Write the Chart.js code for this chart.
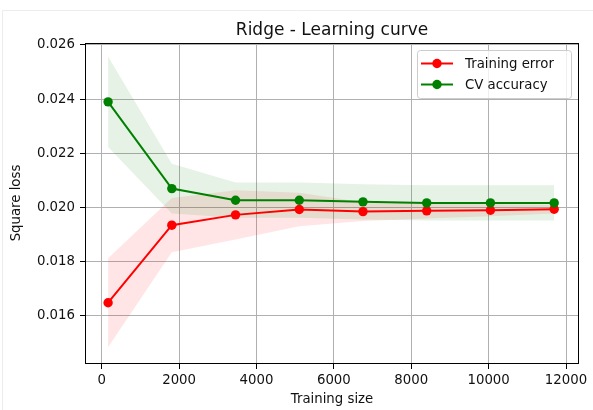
<!DOCTYPE html>
<html>
<head>
<meta charset="utf-8">
<title>Ridge - Learning curve</title>
<script src="https://cdn.jsdelivr.net/npm/chart.js@4/dist/chart.umd.min.js"></script>
<style>
  html, body { margin: 0; padding: 0; background: #fff; }
  canvas { display: block; }
</style>
</head>
<body>
<canvas id="chart" width="593" height="410"></canvas>
<script>
// Learning curve of a Ridge model: mean square loss and spread (±1 std)
const trainSizes   = [165, 1812, 3459, 5106, 6753, 8400, 10047, 11694];
const trainError   = [0.01649, 0.01935, 0.01973, 0.01993, 0.01985, 0.01988, 0.01990, 0.01994];
const trainStd     = [0.00164, 0.00100, 0.00091, 0.00062, 0.00035, 0.00028, 0.00022, 0.00016];
const cvAccuracy   = [0.02390, 0.02070, 0.02027, 0.02027, 0.02021, 0.02017, 0.02017, 0.02017];
const cvStd        = [0.00167, 0.00092, 0.00065, 0.00065, 0.00065, 0.00065, 0.00065, 0.00065];

const xTickValues = [0, 2000, 4000, 6000, 8000, 10000, 12000];
const yTickValues = [0.016, 0.018, 0.020, 0.022, 0.024, 0.026];
const legendOrder = ['Training error', 'CV accuracy'];

const FONT = "'DejaVu Sans', sans-serif";
const TEXT = '#111';
const RED = '#ff0000';
const GREEN = '#008000';

const pts = (ys) => trainSizes.map((x, i) => ({ x: x, y: ys[i] }));
const plus = (m, s) => m.map((v, i) => v + s[i]);
const minus = (m, s) => m.map((v, i) => v - s[i]);

const bandStyle = { borderWidth: 0, pointRadius: 0, pointHoverRadius: 0, tension: 0 };
const lineStyle = (c) => ({
  borderColor: c, backgroundColor: c, pointBackgroundColor: c,
  pointBorderWidth: 0, pointRadius: 4.7, borderWidth: 2, tension: 0, fill: false
});

// Axes frame, title and legend drawn on the canvas
const decorations = {
  id: 'decorations',
  beforeDraw(chart) {
    const ctx = chart.ctx;
    ctx.save();
    ctx.strokeStyle = '#ececec';
    ctx.lineWidth = 1;
    ctx.beginPath();
    ctx.moveTo(2.5, 410); ctx.lineTo(2.5, 10.5); ctx.lineTo(593, 10.5);
    ctx.stroke();
    ctx.restore();
  },
  afterDraw(chart) {
    const { ctx, chartArea: a } = chart;
    ctx.save();
    // frame
    const l = Math.round(a.left), r = Math.round(a.right);
    const t = Math.round(a.top), b = Math.round(a.bottom);
    ctx.strokeStyle = '#000';
    ctx.lineWidth = 1;
    ctx.strokeRect(l - 0.5, t + 0.5, r - l + 1, b - t);
    // title
    ctx.fillStyle = TEXT;
    ctx.font = '17px ' + FONT;
    ctx.textAlign = 'center';
    ctx.textBaseline = 'alphabetic';
    ctx.fillText('Ridge - Learning curve', (a.left + a.right) / 2, a.top - 8);

    // legend (upper right)
    const entries = legendOrder.map(name => chart.data.datasets.find(d => d.label === name));
    const w = 154, rowH = 21, h = 48;
    const x0 = a.right - 7 - w, y0 = a.top + 7;
    ctx.fillStyle = 'rgba(255,255,255,0.8)';
    ctx.strokeStyle = '#cccccc';
    ctx.beginPath();
    ctx.roundRect(x0 + 0.5, y0 + 0.5, w, h, 3);
    ctx.fill();
    ctx.stroke();
    entries.forEach((d, i) => {
      const cy = y0 + 13.5 + i * rowH;
      ctx.strokeStyle = d.borderColor;
      ctx.lineWidth = 2;
      ctx.beginPath();
      ctx.moveTo(x0 + 4, cy); ctx.lineTo(x0 + 36, cy);
      ctx.stroke();
      ctx.fillStyle = d.borderColor;
      ctx.beginPath();
      ctx.arc(x0 + 20, cy, 4.7, 0, Math.PI * 2);
      ctx.fill();
      ctx.fillStyle = TEXT;
      ctx.font = '13.3px ' + FONT;
      ctx.textAlign = 'left';
      ctx.textBaseline = 'middle';
      ctx.fillText(d.label, x0 + 48, cy + 1);
    });
    ctx.restore();
  }
};

new Chart(document.getElementById('chart'), {
  type: 'line',
  data: {
    datasets: [
      Object.assign({ label: 'CV accuracy', data: pts(cvAccuracy), order: 0 }, lineStyle(GREEN)),
      Object.assign({ label: 'Training error', data: pts(trainError), order: 1 }, lineStyle(RED)),
      Object.assign({ label: 'cv+', data: pts(plus(cvAccuracy, cvStd)), order: 2, fill: '+1',
                      backgroundColor: 'rgba(0,128,0,0.1)' }, bandStyle),
      Object.assign({ label: 'cv-', data: pts(minus(cvAccuracy, cvStd)), order: 2, fill: false }, bandStyle),
      Object.assign({ label: 'train+', data: pts(plus(trainError, trainStd)), order: 3, fill: '+1',
                      backgroundColor: 'rgba(255,0,0,0.1)' }, bandStyle),
      Object.assign({ label: 'train-', data: pts(minus(trainError, trainStd)), order: 3, fill: false }, bandStyle)
    ]
  },
  options: {
    responsive: false,
    animation: false,
    devicePixelRatio: 1,
    layout: { padding: { top: 43, right: 15, bottom: 0, left: 0 } },
    plugins: { legend: { display: false }, tooltip: { enabled: false }, title: { display: false } },
    scales: {
      x: {
        type: 'linear',
        min: -406, max: 12310,
        afterBuildTicks: (s) => { s.ticks = xTickValues.map(v => ({ value: v })); },
        afterFit: (s) => { s.height = 47; },
        grid: { color: '#b0b0b0', lineWidth: 1, tickColor: '#000', tickLength: 6 },
        border: { display: false },
        ticks: { color: TEXT, font: { family: FONT, size: 13.3 }, padding: 4, maxRotation: 0,
                 callback: (v) => String(v) },
        title: { display: true, text: 'Training size', color: TEXT,
                 font: { family: FONT, size: 13.3 }, padding: { top: 0, bottom: 2 } }
      },
      y: {
        type: 'linear',
        min: 0.014266, max: 0.02607,
        afterBuildTicks: (s) => { s.ticks = yTickValues.map(v => ({ value: v })); },
        afterFit: (s) => { s.width = 86; },
        grid: { color: '#b0b0b0', lineWidth: 1, tickColor: '#000', tickLength: 6 },
        border: { display: false },
        ticks: { color: TEXT, font: { family: FONT, size: 13.3 }, padding: 5,
                 callback: (v) => Number(v).toFixed(3) },
        title: { display: true, text: 'Square loss', color: TEXT,
                 font: { family: FONT, size: 13.3 }, padding: { top: 9, bottom: 0 } }
      }
    }
  },
  plugins: [decorations]
});
</script>
</body>
</html>
